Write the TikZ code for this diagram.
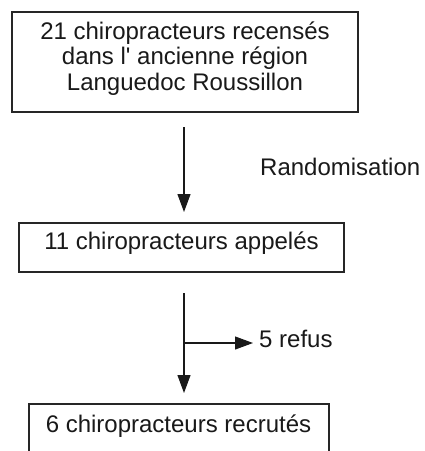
\documentclass[tikz,border=0pt]{standalone}
\usepackage{fontspec}
\setmainfont{Liberation Sans}
\usetikzlibrary{arrows.meta}
\begin{document}
\begin{tikzpicture}[x=1pt,y=-1pt,
  box/.style={draw=black!85, line width=1.1pt, inner sep=0pt, fill=none},
  txt/.style={inner sep=0pt, anchor=base, font=\fontsize{24}{25.5}\selectfont, align=center, text=black!90},
  arr/.style={line width=1.1pt, draw=black!90, -{Triangle[length=18pt,width=13pt]}}]
\useasboundingbox[fill=white] (0,0) rectangle (425,451);
% boxes
\node[box, minimum width=346pt, minimum height=100pt] (b1) at (185,62) {};
\node[box, minimum width=325pt, minimum height=49pt] (b2) at (181.5,247.5) {};
\node[box, minimum width=300pt, minimum height=70pt] (b3) at (179,439) {};
% texts
\node[txt] (t1) at (185,90) {21 chiropracteurs recensés\\dans l\textquotesingle{} ancienne région\\Languedoc Roussillon};
\node[txt] (t2) at (181.5,249.5) {11 chiropracteurs appelés};
\node[txt] (t3) at (178.5,432) {6 chiropracteurs recrutés};
\node[txt, anchor=base west] (rand) at (260,175.5) {Randomisation};
\node[txt, anchor=base west] (refus) at (259,347.5) {5 refus};
% connector end points
\coordinate (a1s) at (184,127);
\coordinate (a1e) at (184,212);
\coordinate (a2s) at (184,293);
\coordinate (a2e) at (184,393);
\coordinate (br) at (184,343);
\coordinate (bre) at (253,343);
\draw[arr] (a1s) -- (a1e);
\draw[arr] (a2s) -- (a2e);
\draw[arr] (br) -- (bre);
\end{tikzpicture}
\end{document}
